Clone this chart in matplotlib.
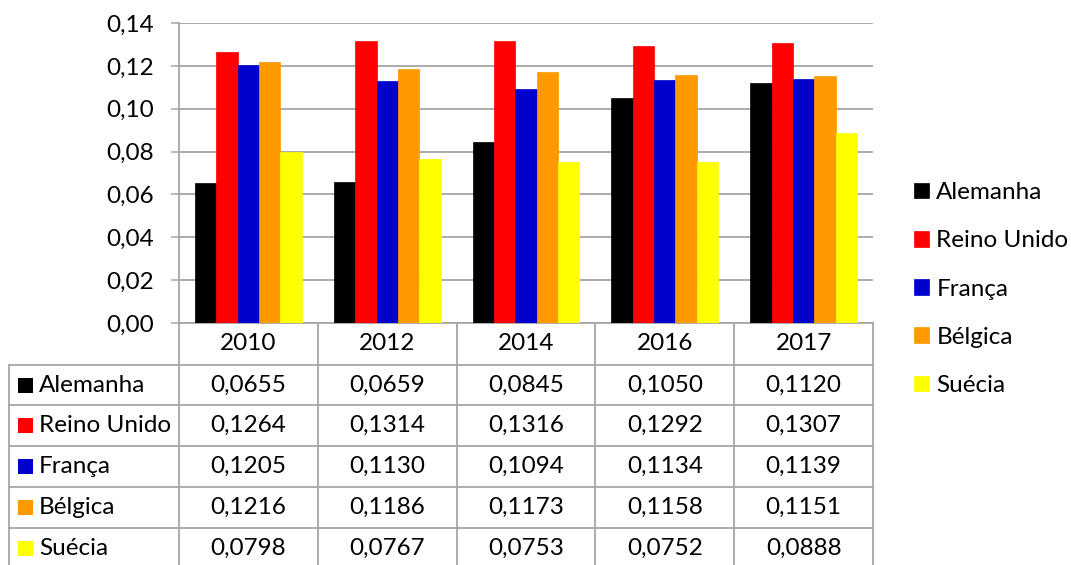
import matplotlib
matplotlib.use("Agg")
import matplotlib.pyplot as plt
from matplotlib.patches import Rectangle
from matplotlib.lines import Line2D
import matplotlib.transforms as mtransforms

years = ["2010", "2012", "2014", "2016", "2017"]
series = ["Alemanha", "Reino Unido", "França", "Bélgica", "Suécia"]
alemanha = [0.0655, 0.0659, 0.0845, 0.1050, 0.1120]
reino_unido = [0.1264, 0.1314, 0.1316, 0.1292, 0.1307]
franca = [0.1205, 0.1130, 0.1094, 0.1134, 0.1139]
belgica = [0.1216, 0.1186, 0.1173, 0.1158, 0.1151]
suecia = [0.0798, 0.0767, 0.0753, 0.0752, 0.0888]
colors = ["#000000", "#FF0000", "#0000CC", "#FF9900", "#FFFF00"]
yticks = [0.00, 0.02, 0.04, 0.06, 0.08, 0.10, 0.12, 0.14]

values = [alemanha, reino_unido, franca, belgica, suecia]

plt.rcParams['font.family'] = ['Lato', 'DejaVu Sans']
FS = 17.5
GRID = "#A6A6A6"

W, H = 1071, 565
fig = plt.figure(figsize=(W / 100, H / 100), dpi=100)
L, R, T, B = 179, 873, 23, 323
ax = fig.add_axes([L / W, 1 - B / H, (R - L) / W, (B - T) / H])

n = len(series)
bw = 0.154
x = list(range(len(years)))
bars = []
for k, (vals, c) in enumerate(zip(values, colors)):
    b = ax.bar([xi + (k - (n - 1) / 2) * bw for xi in x], vals, width=bw,
               color=c, edgecolor=c, linewidth=0.5, zorder=3)
    bars.append(b)

ax.set_xlim(-0.5, len(years) - 0.5)
ax.set_ylim(0, 0.14)
ax.set_yticks(yticks)
ax.set_yticklabels([f"{v:.2f}".replace(".", ",") for v in yticks], fontsize=FS)
ax.set_xticks([])
ax.yaxis.grid(True, color=GRID, linewidth=1.3, zorder=0)
ax.tick_params(axis='y', length=6, width=1.1, color=GRID, pad=12)
for s in ["top", "right"]:
    ax.spines[s].set_visible(False)
for s in ["left", "bottom"]:
    ax.spines[s].set_color(GRID)
    ax.spines[s].set_linewidth(1.3)

# Data table below the axes
axw = R - L
axh = B - T
def fx(px):
    return (px - L) / axw
def fy(py):
    return (B - py) / axh

row_bounds = [365, 405, 446, 487, 528, 575]
tA = ax.transAxes
blend = mtransforms.blended_transform_factory(ax.transData, ax.transAxes)
left_px = 9

for i in range(len(years) + 1):
    ax.add_line(Line2D([i - 0.5, i - 0.5], [0, fy(row_bounds[-1])], transform=blend,
                       color=GRID, linewidth=1.3, clip_on=False))
ax.add_line(Line2D([fx(left_px), fx(left_px)], [fy(row_bounds[0]), fy(row_bounds[-1])],
                   transform=tA, color=GRID, linewidth=1.3, clip_on=False))
for rb in row_bounds[:-1]:
    ax.add_line(Line2D([fx(left_px), 1], [fy(rb), fy(rb)], transform=tA,
                       color=GRID, linewidth=1.3, clip_on=False))

for i, yr in enumerate(years):
    ax.text(i, fy((B + row_bounds[0]) / 2), yr, transform=blend, ha='center',
            va='center', fontsize=FS, clip_on=False)

for r, (name, vals, c) in enumerate(zip(series, values, colors)):
    ymid = (row_bounds[r] + min(row_bounds[r + 1], row_bounds[r] + 41)) / 2
    ax.add_patch(Rectangle((fx(18), fy(ymid + 7.5)), 15 / axw, 15 / axh, transform=tA,
                           facecolor=c, edgecolor='none', clip_on=False))
    ax.text(fx(39), fy(ymid), name, transform=tA, ha='left', va='center',
            fontsize=FS, clip_on=False)
    for i, v in enumerate(vals):
        ax.text(i, fy(ymid), f"{v:.4f}".replace(".", ","), transform=blend,
                ha='center', va='center', fontsize=FS, clip_on=False)

ax.legend(handles=[b[0] for b in bars], labels=series, loc='center left',
          bbox_to_anchor=(fx(914), fy(289)), frameon=False, fontsize=FS,
          handlelength=0.62, handleheight=0.62, handletextpad=0.3,
          labelspacing=1.12, borderaxespad=0, borderpad=0)

fig.savefig("out.png", dpi=100)
